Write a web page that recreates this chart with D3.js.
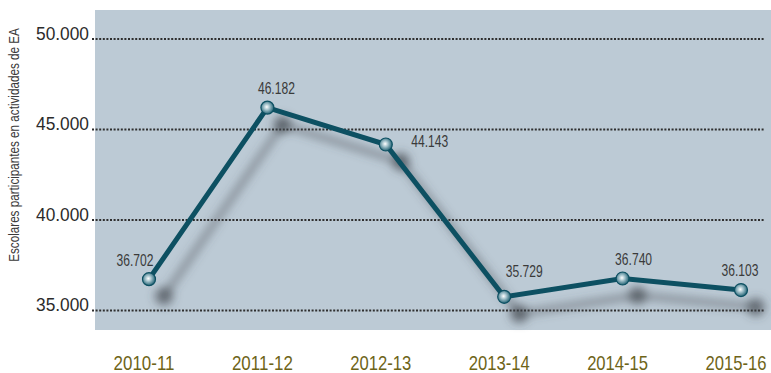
<!DOCTYPE html>
<html>
<head>
<meta charset="utf-8">
<script src="https://cdn.jsdelivr.net/npm/d3@7/dist/d3.min.js"></script>
<style>
  html, body { margin: 0; padding: 0; background: #ffffff; }
  svg { display: block; }
  .cond { font-family: "Liberation Sans", Arial, sans-serif; }
</style>
</head>
<body>
<svg id="chart" width="771" height="373"></svg>
<script>
// School years and number of participating students
const categories = ["2010-11", "2011-12", "2012-13", "2013-14", "2014-15", "2015-16"];
const values = [36702, 46182, 44143, 35729, 36740, 36103];
const valueLabels = ["36.702", "46.182", "44.143", "35.729", "36.740", "36.103"];
const yTicks = [35000, 40000, 45000, 50000];
const yTickLabels = ["35.000", "40.000", "45.000", "50.000"];
const yTitle = "Escolares participantes en actividades de EA";

const svg = d3.select("#chart");
const plot = { left: 95, top: 10, right: 771, bottom: 330 };

const x = d3.scalePoint().domain(categories).range([149, 741]);
const y = d3.scaleLinear().domain([35000, 50000]).range([310, 38.5]);

// horizontal squeeze factor that brings a text to the given width
function squeeze(node, width) {
  return width / node.getComputedTextLength();
}

const defs = svg.append("defs");
const blur = defs.append("filter").attr("id", "shadow")
  .attr("x", "-20%").attr("y", "-20%").attr("width", "140%").attr("height", "140%");
blur.append("feGaussianBlur").attr("stdDeviation", 5);

const grad = defs.append("radialGradient").attr("id", "dotFill")
  .attr("cx", "45%").attr("cy", "45%").attr("r", "60%");
grad.append("stop").attr("offset", "0%").attr("stop-color", "#ffffff");
grad.append("stop").attr("offset", "35%").attr("stop-color", "#a9c6cf");
grad.append("stop").attr("offset", "100%").attr("stop-color", "#0d5366");

// plot background
svg.append("rect")
  .attr("x", plot.left).attr("y", plot.top)
  .attr("width", plot.right - plot.left).attr("height", plot.bottom - plot.top)
  .attr("fill", "#bccad5");

// dotted gridlines and y tick labels
const yAxis = d3.axisLeft(y).tickValues(yTicks)
  .tickFormat((d, i) => yTickLabels[i])
  .tickSize(-(764 - 92)).tickPadding(3);
const gy = svg.append("g").attr("transform", "translate(92,0)").call(yAxis);
gy.select(".domain").remove();
gy.selectAll(".tick line")
  .attr("stroke", "#2e2e2e").attr("stroke-width", 2)
  .attr("stroke-dasharray", "2,1.6");
gy.selectAll(".tick text")
  .attr("class", "cond")
  .attr("fill", "#2b2b2b").attr("font-size", 19)
  .attr("dy", "0.04em")
  .each(function () {
    const k = squeeze(this, 53);
    d3.select(this).attr("x", -3 / k).attr("transform", `scale(${k},1)`);
  });

// y title
const title = svg.append("text")
  .attr("class", "cond")
  .attr("text-anchor", "middle")
  .attr("font-size", 14).attr("fill", "#3a3a3a")
  .text(yTitle);
title.attr("transform", `translate(19,145) rotate(-90) scale(${squeeze(title.node(), 234)},1)`);

// category labels under the plot
svg.append("g").attr("class", "x-labels")
  .selectAll("text").data(categories).join("text")
  .attr("class", "cond")
  .attr("text-anchor", "middle")
  .attr("font-size", 21).attr("fill", "#6e6418")
  .text(d => d)
  .each(function (d) {
    const k = squeeze(this, 61);
    d3.select(this).attr("transform", `translate(${x(d) - 5},370) scale(${k},1)`);
  });

const line = d3.line().x((d, i) => x(categories[i])).y(d => y(d));

// drop shadow of the series
const sh = svg.append("g").attr("transform", "translate(15,17)").attr("filter", "url(#shadow)");
sh.append("path").datum(values).attr("d", line)
  .attr("fill", "none").attr("stroke", "#4a5058").attr("stroke-opacity", 0.55)
  .attr("stroke-width", 6).attr("stroke-linejoin", "round");
sh.selectAll("circle").data(values).join("circle")
  .attr("cx", (d, i) => x(categories[i])).attr("cy", d => y(d))
  .attr("r", 9).attr("fill", "#3d424a").attr("fill-opacity", 0.65);

// series line
svg.append("path").datum(values).attr("d", line)
  .attr("fill", "none").attr("stroke", "#0d5062")
  .attr("stroke-width", 5).attr("stroke-linejoin", "miter");

// markers
svg.selectAll("circle.pt").data(values).join("circle")
  .attr("class", "pt")
  .attr("cx", (d, i) => x(categories[i])).attr("cy", d => y(d))
  .attr("r", 6.5).attr("fill", "url(#dotFill)")
  .attr("stroke", "#0d5062").attr("stroke-width", 1.2);

// value labels
const labelOffsets = [[-14, -13], [9, -14], [44, 2], [20, -20], [11, -14], [-1, -14]];
svg.selectAll("text.val").data(values).join("text")
  .attr("class", "val cond")
  .attr("text-anchor", "middle")
  .attr("font-size", 16).attr("fill", "#3a3a3a")
  .text((d, i) => valueLabels[i])
  .each(function (d, i) {
    const k = squeeze(this, 37);
    const px = x(categories[i]) + labelOffsets[i][0];
    const py = y(d) + labelOffsets[i][1];
    d3.select(this).attr("transform", `translate(${px},${py}) scale(${k},1)`);
  });
</script>
</body>
</html>
